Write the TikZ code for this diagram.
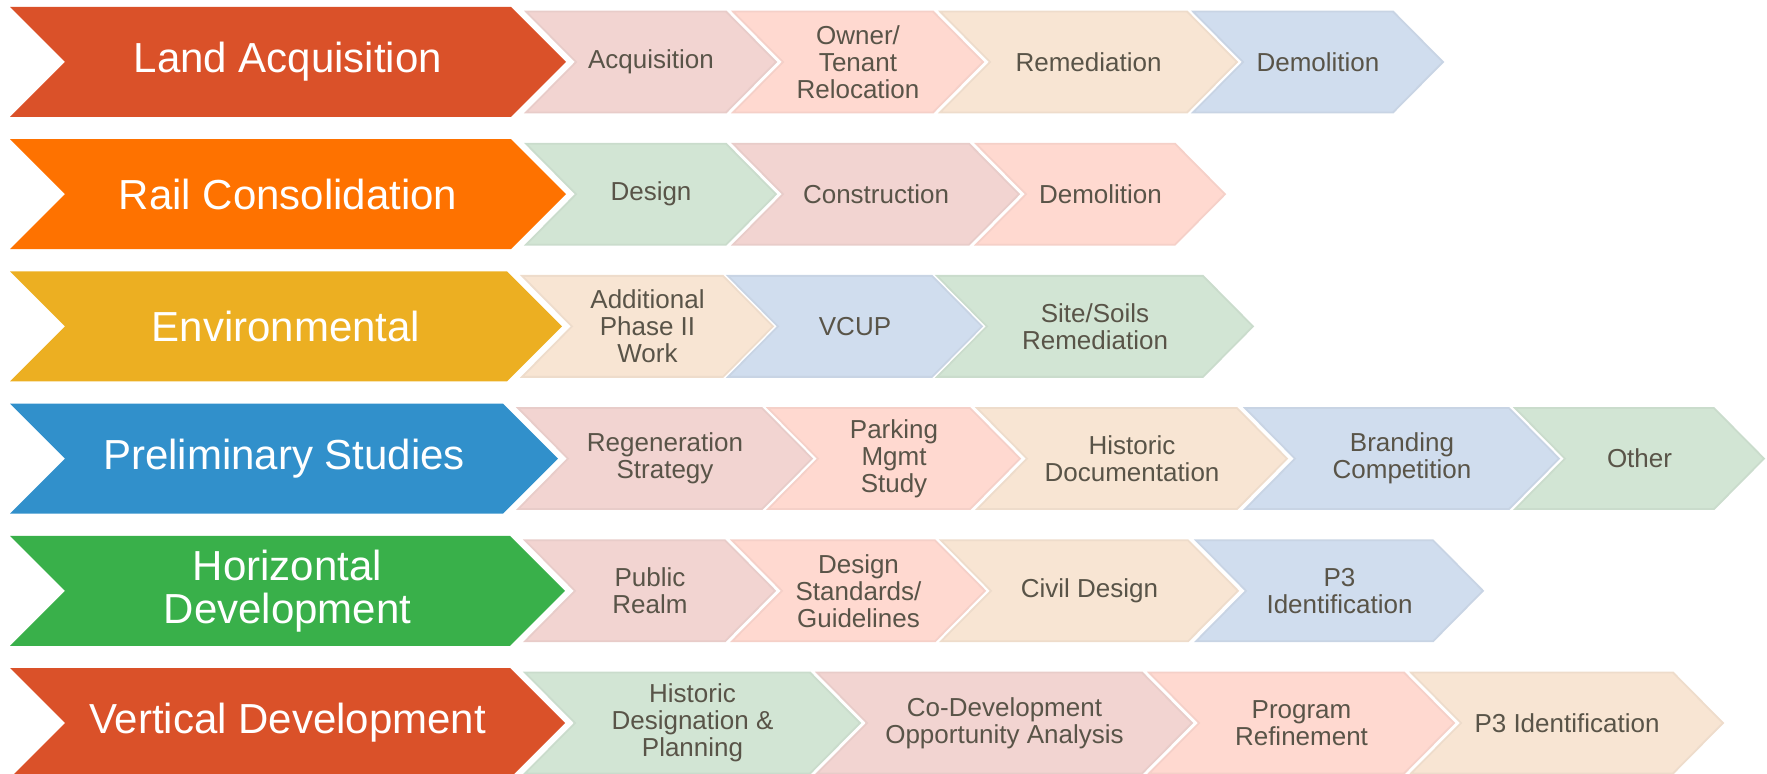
\documentclass[tikz,border=0pt]{standalone}
\usepackage{fontspec}
\setmainfont{Liberation Sans}
\definecolor{cLand}{RGB}{218,81,41}
\definecolor{cRail}{RGB}{254,114,0}
\definecolor{cEnv}{RGB}{236,175,34}
\definecolor{cPrel}{RGB}{49,144,203}
\definecolor{cHor}{RGB}{57,176,74}
\definecolor{sPink}{RGB}{242,212,209}
\definecolor{sSalmon}{RGB}{255,217,208}
\definecolor{sPeach}{RGB}{248,229,211}
\definecolor{sBlue}{RGB}{208,221,238}
\definecolor{sGreen}{RGB}{210,229,212}
\definecolor{tGray}{RGB}{89,84,72}
\tikzset{
  maintext/.style={text=white, align=center, inner sep=0pt, font=\fontsize{21}{21.5}\selectfont},
  subtext/.style={text=tGray, align=center, inner sep=0pt, font=\fontsize{13}{13.5}\selectfont},
  subshape/.style={line width=0.9pt, line join=miter},
}
% #1 name, #2 centre y, #3 tip x, #4 colour, #5 text
\newcommand\MainChev[5]{%
  \fill[#4] (10,#2-55) -- (#3-55,#2-55) -- (#3,#2) -- (#3-55,#2+55) -- (10,#2+55) -- (65,#2) -- cycle;
  \node[maintext] (#1) at ({(10+#3)/2},#2) {#5};
}
% #1 name, #2 centre y, #3 left x, #4 right x, #5 colour, #6 text
\newcommand\SubChev[6]{%
  \filldraw[subshape, fill=#5, draw=#5!96!black] (#3,#2-50.5) -- (#4,#2-50.5) -- (#4+50,#2) -- (#4,#2+50.5) -- (#3,#2+50.5) -- (#3+50,#2) -- cycle;
  \node[subtext] (#1) at ({(#3+#4+50)/2},#2) {#6};
}
\begin{document}
\begin{tikzpicture}[x=0.5pt, y=-0.5pt]
\useasboundingbox (0,0) rectangle (1767,774);
% Row 1
\MainChev{land}{62}{566}{cLand}{Land Acquisition}
\SubChev{la1}{62}{526}{726}{sPink}{Acquisition}
\SubChev{la2}{62}{733}{933}{sSalmon}{Owner/\\Tenant\\Relocation}
\SubChev{la3}{62}{940}{1187}{sPeach}{Remediation}
\SubChev{la4}{62}{1193}{1393}{sBlue}{Demolition}
% Row 2
\MainChev{rail}{194.2}{566}{cRail}{Rail Consolidation}
\SubChev{rc1}{194.2}{526}{726}{sGreen}{Design}
\SubChev{rc2}{194.2}{733}{969}{sPink}{Construction}
\SubChev{rc3}{194.2}{976}{1175}{sSalmon}{Demolition}
% Row 3
\MainChev{env}{326.4}{562}{cEnv}{Environmental}
\SubChev{en1}{326.4}{522}{723}{sPeach}{Additional\\Phase II\\Work}
\SubChev{en2}{326.4}{728}{932}{sBlue}{VCUP}
\SubChev{en3}{326.4}{937}{1203}{sGreen}{Site/Soils\\Remediation}
% Row 4
\MainChev{prel}{458.6}{558}{cPrel}{Preliminary Studies}
\SubChev{ps1}{458.6}{518}{762}{sPink}{Regeneration\\Strategy}
\SubChev{ps2}{458.6}{768}{970}{sSalmon}{Parking\\Mgmt\\Study}
\SubChev{ps3}{458.6}{977}{1237}{sPeach}{Historic\\Documentation}
\SubChev{ps4}{458.6}{1245}{1509}{sBlue}{Branding\\Competition}
\SubChev{ps5}{458.6}{1515}{1714}{sGreen}{Other}
% Row 5
\MainChev{hor}{590.8}{565}{cHor}{Horizontal\\Development}
\SubChev{hd1}{590.8}{525}{725}{sPink}{Public\\Realm}
\SubChev{hd2}{590.8}{732}{935}{sSalmon}{Design\\Standards/\\Guidelines}
\SubChev{hd3}{590.8}{941}{1188}{sPeach}{Civil Design}
\SubChev{hd4}{590.8}{1196}{1433}{sBlue}{P3\\Identification}
% Row 6
\MainChev{vert}{723}{565}{cLand}{Vertical Development}
\SubChev{vd1}{723}{525}{810}{sGreen}{Historic\\Designation \&\\Planning}
\SubChev{vd2}{723}{817}{1142}{sPink}{Co-Development\\Opportunity Analysis}
\SubChev{vd3}{723}{1149}{1404}{sSalmon}{Program\\Refinement}
\SubChev{vd4}{723}{1411}{1673}{sPeach}{P3 Identification}
\end{tikzpicture}
\end{document}
